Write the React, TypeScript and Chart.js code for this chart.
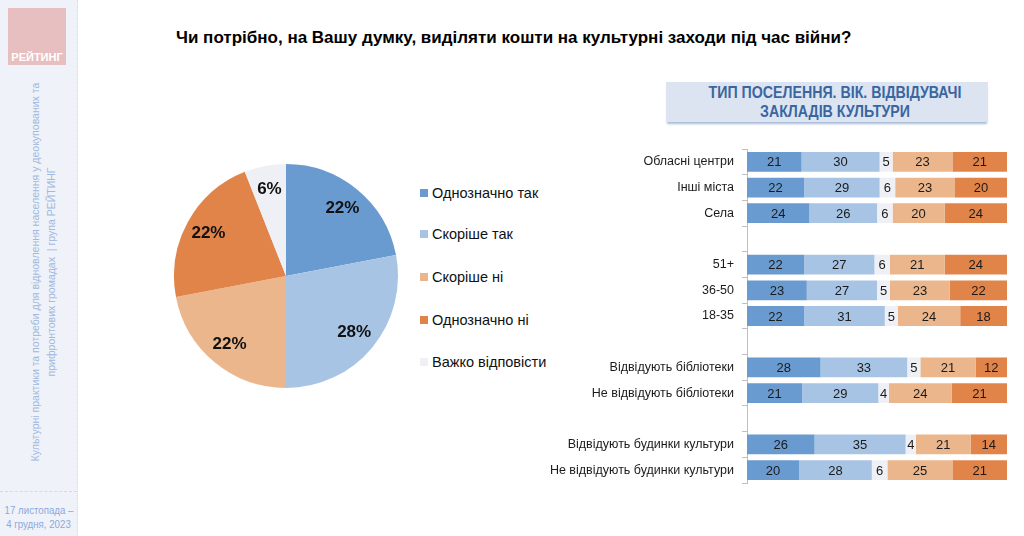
import React, { useEffect, useRef } from 'react';
import { Chart, registerables } from 'chart.js';

Chart.register(...registerables);

const FONT = "'Liberation Sans', Arial, sans-serif";

// ---- Pie data ----
const pieLabels = ['Однозначно так', 'Скоріше так', 'Скоріше ні', 'Однозначно ні', 'Важко відповісти'];
const pieValues = [22, 28, 22, 22, 6];
const pieColors = ['#6A9BD0', '#A8C4E4', '#EBB68C', '#E0844A', '#EEF0F5'];

// ---- Bar data ----
const barCategories = [
  'Обласні центри',
  'Інші міста',
  'Села',
  '',
  '51+',
  '36-50',
  '18-35',
  '',
  'Відвідують бібліотеки',
  'Не відвідують бібліотеки',
  '',
  'Відвідують будинки культури',
  'Не відвідують будинки культури',
];
const seriesNames = ['Однозначно так', 'Скоріше так', 'Важко відповісти', 'Скоріше ні', 'Однозначно ні'];
const seriesColors = ['#6A9BD0', '#A8C4E4', '#EEF0F5', '#EBB68C', '#E0844A'];
const definitelyYes = [21, 22, 24, null, 22, 23, 22, null, 28, 21, null, 26, 20];
const ratherYes = [30, 29, 26, null, 27, 27, 31, null, 33, 29, null, 35, 28];
const hardToSay = [5, 6, 6, null, 6, 5, 5, null, 5, 4, null, 4, 6];
const ratherNo = [23, 23, 20, null, 21, 23, 24, null, 21, 24, null, 21, 25];
const definitelyNo = [21, 20, 24, null, 24, 22, 18, null, 12, 21, null, 14, 21];

const titleText = 'Чи потрібно, на Вашу думку, виділяти кошти на культурні заходи під час війни?';
const headerText = ['ТИП ПОСЕЛЕННЯ. ВІК. ВІДВІДУВАЧІ', 'ЗАКЛАДІВ КУЛЬТУРИ'];
const sideText = [
  'Культурні практики та потреби для відновлення населення у деокупованих та',
  'прифронтових громадах  | група РЕЙТИНГ',
];
const dateText = ['17 листопада –', '4 грудня, 2023'];

const pieLabelPlugin = {
  id: 'pieLabels',
  afterDatasetsDraw(chart: any) {
    const ctx = chart.ctx;
    const meta = chart.getDatasetMeta(0);
    ctx.save();
    ctx.font = `bold 17px ${FONT}`;
    ctx.fillStyle = '#111';
    ctx.textAlign = 'center';
    ctx.textBaseline = 'middle';
    meta.data.forEach((arc: any, i: number) => {
      const p = arc.getProps(['x', 'y', 'startAngle', 'endAngle', 'outerRadius'], true);
      const mid = (p.startAngle + p.endAngle) / 2;
      const r = p.outerRadius * 0.79;
      ctx.fillText(pieValues[i] + '%', p.x + Math.cos(mid) * r, p.y + Math.sin(mid) * r);
    });
    ctx.restore();
  },
};

const barLabelPlugin = {
  id: 'barLabels',
  afterDatasetsDraw(chart: any) {
    const ctx = chart.ctx;
    ctx.save();
    ctx.font = `13px ${FONT}`;
    ctx.fillStyle = '#1a1a1a';
    ctx.textAlign = 'center';
    ctx.textBaseline = 'middle';
    chart.data.datasets.forEach((ds: any, di: number) => {
      const meta = chart.getDatasetMeta(di);
      meta.data.forEach((bar: any, i: number) => {
        const raw = ds.rawValues[i];
        if (raw === null || raw === undefined) return;
        const p = bar.getProps(['x', 'y', 'base'], true);
        ctx.fillText(String(raw), (p.x + p.base) / 2, p.y + 1);
      });
    });
    ctx.restore();
  },
};

function PieChart() {
  const ref = useRef<HTMLCanvasElement>(null);
  useEffect(() => {
    const chart = new Chart(ref.current as HTMLCanvasElement, {
      type: 'pie',
      data: {
        labels: pieLabels,
        datasets: [{ data: pieValues, backgroundColor: pieColors, borderWidth: 0 }],
      },
      options: {
        animation: false,
        responsive: false,
        layout: { padding: 1 },
        plugins: { legend: { display: false }, tooltip: { enabled: false } },
      },
      plugins: [pieLabelPlugin],
    } as any);
    return () => chart.destroy();
  }, []);
  return <canvas ref={ref} width={226} height={226} style={{ position: 'absolute', left: 173, top: 163 }} />;
}

function BarChart() {
  const ref = useRef<HTMLCanvasElement>(null);
  useEffect(() => {
    const series = [definitelyYes, ratherYes, hardToSay, ratherNo, definitelyNo];
    const totals = barCategories.map((_, i) =>
      series.reduce((s, arr) => s + (arr[i] ?? 0), 0)
    );
    const datasets = series.map((arr, si) => ({
      label: seriesNames[si],
      data: arr.map((v, i) => (v === null ? null : (v / totals[i]) * 100)),
      rawValues: arr,
      backgroundColor: seriesColors[si],
      borderWidth: 0,
      categoryPercentage: 1,
      barPercentage: 0.77,
    }));
    const chart = new Chart(ref.current as HTMLCanvasElement, {
      type: 'bar',
      data: { labels: barCategories, datasets },
      options: {
        animation: false,
        responsive: false,
        indexAxis: 'y',
        layout: { padding: { top: 9, bottom: 7, right: 3, left: 0 } },
        plugins: { legend: { display: false }, tooltip: { enabled: false } },
        scales: {
          x: { stacked: true, min: 0, max: 100, display: false },
          y: {
            stacked: true,
            grid: { offset: true, drawOnChartArea: false, tickLength: 5, color: '#BFBFBF' },
            border: { display: true, color: '#BFBFBF' },
            ticks: { color: '#1a1a1a', font: { size: 12.5, family: FONT }, padding: 8, autoSkip: false },
            afterFit: (s: any) => {
              s.width = 227;
              s.paddingTop = 0;
              s.paddingBottom = 0;
            },
          },
        },
      },
      plugins: [barLabelPlugin],
    } as any);
    return () => chart.destroy();
  }, []);
  return <canvas ref={ref} width={490} height={350} style={{ position: 'absolute', left: 520, top: 140 }} />;
}

export default function App() {
  return (
    <div
      style={{
        position: 'absolute',
        left: 0,
        top: 0,
        width: 1024,
        height: 536,
        background: '#fff',
        overflow: 'hidden',
        fontFamily: FONT,
      }}
    >
      {/* Sidebar */}
      <div
        style={{
          position: 'absolute',
          left: 0,
          top: 0,
          width: 77,
          height: 536,
          background: '#EFF2F9',
          borderRight: '1px dotted #D3DBEA',
        }}
      />
      <div
        style={{
          position: 'absolute',
          left: 8,
          top: 8,
          width: 58,
          height: 57,
          background: '#E8BFC0',
        }}
      >
        <div
          style={{
            position: 'absolute',
            left: 0,
            right: 0,
            bottom: 2,
            textAlign: 'center',
            color: '#fff',
            fontWeight: 'bold',
            fontSize: 11,
          }}
        >
          РЕЙТИНГ
        </div>
      </div>
      <div
        style={{
          position: 'absolute',
          left: 44 - 200,
          top: 272 - 17,
          width: 400,
          height: 34,
          transform: 'rotate(-90deg)',
          textAlign: 'center',
          color: '#A0B9E2',
          fontSize: 10.5,
          lineHeight: '16px',
          whiteSpace: 'pre',
        }}
      >
        <div>{sideText[0]}</div>
        <div>{sideText[1]}</div>
      </div>
      <div
        style={{
          position: 'absolute',
          left: 0,
          top: 491,
          width: 77,
          borderTop: '1px dashed #D3DBEA',
        }}
      />
      <div
        style={{
          position: 'absolute',
          left: 0,
          top: 503,
          width: 77,
          textAlign: 'center',
          color: '#8DA9DA',
          fontSize: 11,
          lineHeight: '14px',
          whiteSpace: 'nowrap',
          transform: 'scaleX(0.88)',
        }}
      >
        <div>{dateText[0]}</div>
        <div>{dateText[1]}</div>
      </div>

      {/* Title */}
      <div
        style={{
          position: 'absolute',
          left: 176,
          top: 28,
          fontSize: 17,
          fontWeight: 'bold',
          color: '#000',
          whiteSpace: 'nowrap',
        }}
      >
        {titleText}
      </div>

      {/* Pie */}
      <PieChart />

      {/* Legend */}
      {pieLabels.map((l, i) => (
        <div
          key={l}
          style={{
            position: 'absolute',
            left: 420,
            top: [193, 234, 277, 320, 362][i] - 9,
            height: 18,
            display: 'flex',
            alignItems: 'center',
            fontSize: 14.5,
            color: '#111',
            whiteSpace: 'nowrap',
          }}
        >
          <span
            style={{
              display: 'inline-block',
              width: 8,
              height: 8,
              background: pieColors[i],
              marginRight: 4,
            }}
          />
          {l}
        </div>
      ))}

      {/* Header box */}
      <div
        style={{
          position: 'absolute',
          left: 666,
          top: 82,
          width: 322,
          height: 40,
          background: '#DCE4F1',
          boxShadow: '0 3px 2px -1px #A9BCD8',
          color: '#3A66A0',
          fontWeight: 'bold',
          fontSize: 16.5,
          lineHeight: '19px',
          boxSizing: 'border-box',
          paddingTop: 1,
        }}
      >
        {headerText.map((t) => (
          <div
            key={t}
            style={{
              position: 'relative',
              left: 8,
              width: 322,
              textAlign: 'center',
              transform: 'scaleX(0.86)',
              whiteSpace: 'nowrap',
            }}
          >
            {t}
          </div>
        ))}
      </div>

      {/* Bars */}
      <BarChart />
    </div>
  );
}
